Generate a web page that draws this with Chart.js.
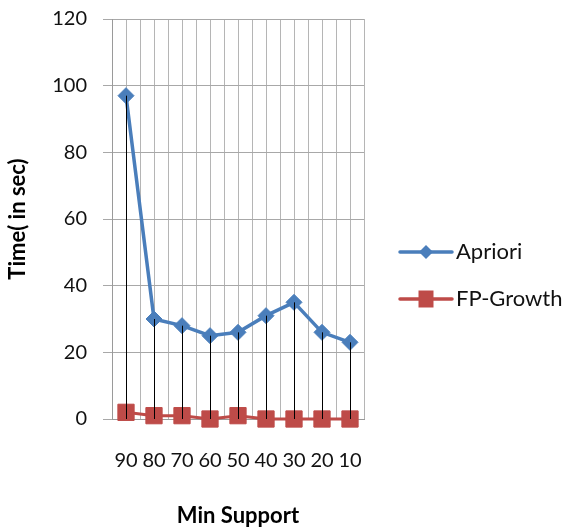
<!DOCTYPE html>
<html>
<head>
<meta charset="utf-8">
<script src="https://cdn.jsdelivr.net/npm/chart.js@4.4.1/dist/chart.umd.min.js"></script>
<style>
  html, body { margin: 0; padding: 0; background: #fff; }
  #wrap { width: 563px; height: 529px; }
</style>
</head>
<body>
<div id="wrap"><canvas id="c" width="563" height="529"></canvas></div>
<script>
const categories = ['90', '80', '70', '60', '50', '40', '30', '20', '10'];
const apriori = [97, 30, 28, 25, 26, 31, 35, 26, 23];
const fpGrowth = [2, 1, 1, 0, 1, 0, 0, 0, 0];
const yTicks = [0, 20, 40, 60, 80, 100, 120];
const seriesNames = ['Apriori', 'FP-Growth'];

const BLUE = '#4A7EBB';
const RED = '#BE4B48';
const FONT = 'Lato, "Open Sans", sans-serif';

const toPoints = arr => arr.map((v, i) => ({ x: i, y: v }));

const dropLines = {
  id: 'dropLines',
  afterDatasetsDraw(chart) {
    const { ctx, scales: { x, y } } = chart;
    ctx.save();
    ctx.strokeStyle = '#000';
    ctx.lineWidth = 1;
    apriori.forEach((v, i) => {
      const px = Math.round(x.getPixelForValue(i)) + 0.5;
      ctx.beginPath();
      ctx.moveTo(px, y.getPixelForValue(v));
      ctx.lineTo(px, y.getPixelForValue(0));
      ctx.stroke();
    });
    ctx.restore();
  }
};

const sideLegend = {
  id: 'sideLegend',
  afterDraw(chart) {
    const { ctx, chartArea } = chart;
    const x0 = chartArea.right + 36;
    const x1 = x0 + 52;
    const rows = [
      { name: seriesNames[0], color: BLUE, y: 252, shape: 'diamond' },
      { name: seriesNames[1], color: RED, y: 299, shape: 'square' }
    ];
    ctx.save();
    rows.forEach(r => {
      ctx.strokeStyle = r.color;
      ctx.lineWidth = 3.5;
      ctx.lineCap = 'round';
      ctx.beginPath();
      ctx.moveTo(x0, r.y);
      ctx.lineTo(x1, r.y);
      ctx.stroke();
      const cx = (x0 + x1) / 2;
      ctx.fillStyle = r.color;
      ctx.beginPath();
      if (r.shape === 'diamond') {
        const s = 7;
        ctx.moveTo(cx - s, r.y); ctx.lineTo(cx, r.y - s);
        ctx.lineTo(cx + s, r.y); ctx.lineTo(cx, r.y + s);
        ctx.closePath();
      } else {
        ctx.rect(cx - 7.5, r.y - 8.5, 15, 17);
      }
      ctx.fill();
      ctx.fillStyle = '#111';
      ctx.font = '22px ' + FONT;
      ctx.textBaseline = 'middle';
      ctx.textAlign = 'left';
      ctx.fillText(r.name, x1 + 4, r.y);
    });
    ctx.restore();
  }
};

new Chart(document.getElementById('c'), {
  type: 'line',
  data: {
    datasets: [
      {
        label: seriesNames[0],
        data: toPoints(apriori),
        borderColor: BLUE,
        backgroundColor: BLUE,
        borderWidth: 3.5,
        pointStyle: 'rectRot',
        pointRadius: 8,
        pointBorderWidth: 1,
        pointBackgroundColor: BLUE,
        pointBorderColor: BLUE,
        tension: 0,
        clip: false
      },
      {
        label: seriesNames[1],
        data: toPoints(fpGrowth),
        borderColor: RED,
        backgroundColor: RED,
        borderWidth: 3,
        pointStyle: 'rect',
        pointRadius: 11.5,
        pointBorderWidth: 1,
        pointBackgroundColor: RED,
        pointBorderColor: RED,
        tension: 0,
        clip: false
      }
    ]
  },
  options: {
    responsive: false,
    animation: false,
    events: [],
    layout: { padding: { top: 19, right: 199, left: 0, bottom: 0 } },
    plugins: { legend: { display: false }, tooltip: { enabled: false } },
    scales: {
      x: {
        type: 'linear',
        min: -0.5,
        max: 8.5,
        afterFit(scale) {
          scale.height = 110;
          scale.paddingLeft = 0; scale.paddingRight = 0;
        },
        afterBuildTicks(scale) {
          const t = [];
          for (let k = 0; k <= 18; k++) t.push({ value: -0.5 + k * 0.5 });
          scale.ticks = t;
        },
        ticks: {
          autoSkip: false,
          maxRotation: 0,
          padding: 30,
          color: '#111',
          font: { family: FONT, size: 20 },
          callback: v => Number.isInteger(v) ? categories[v] : ''
        },
        grid: { color: '#B5B5B5', lineWidth: 1, drawTicks: false },
        border: { color: '#9A9A9A', width: 1 },
        title: {
          display: true,
          text: 'Min Support',
          color: '#000',
          font: { family: FONT, size: 22, weight: 'bold' },
          padding: { top: 0, bottom: 0 }
        }
      },
      y: {
        min: 0,
        max: 120,
        afterFit(scale) {
          scale.width = 112;
          scale.paddingTop = 0; scale.paddingBottom = 0;
        },
        afterBuildTicks(scale) { scale.ticks = yTicks.map(v => ({ value: v })); },
        ticks: {
          padding: 16,
          color: '#111',
          font: { family: FONT, size: 20 }
        },
        grid: { color: '#A8A8A8', lineWidth: 1, tickLength: 9, drawTicks: true },
        border: { color: '#9A9A9A', width: 1 },
        title: {
          display: true,
          text: 'Time( in sec)',
          color: '#000',
          font: { family: FONT, size: 22, weight: 'bold' },
          padding: { top: 5, bottom: 0 }
        }
      }
    }
  },
  plugins: [dropLines, sideLegend]
});
</script>
</body>
</html>
